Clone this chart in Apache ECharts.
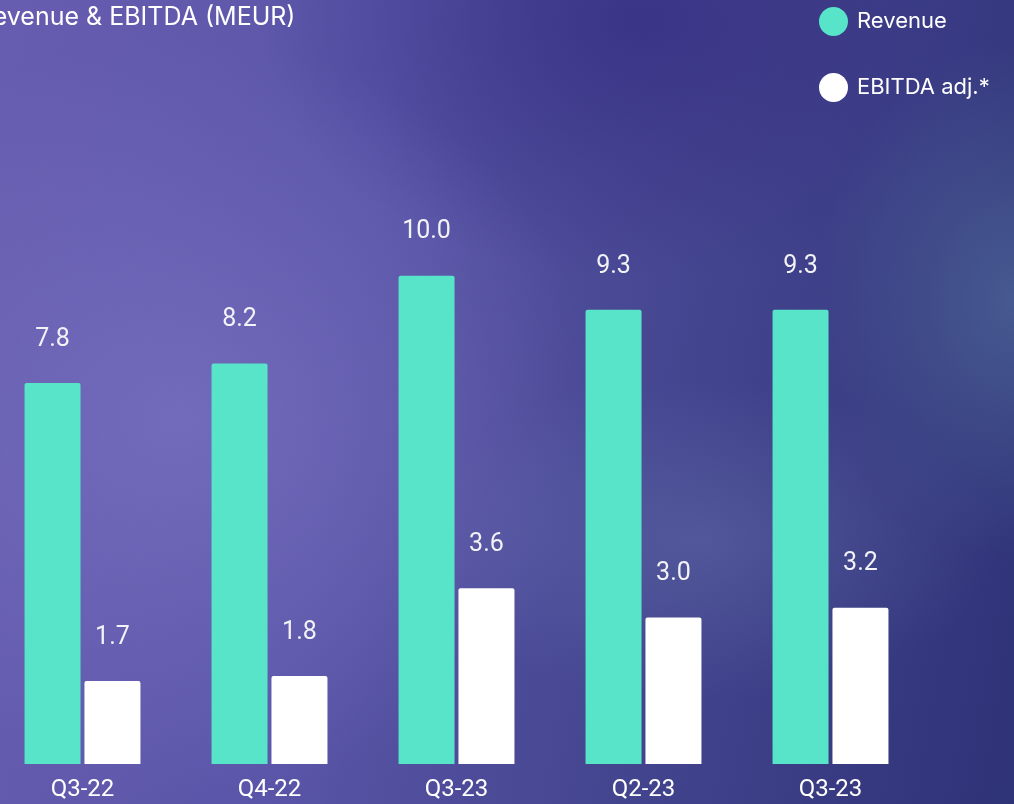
<!DOCTYPE html>
<html>
<head>
<meta charset="utf-8">
<script src="https://cdn.jsdelivr.net/npm/echarts@6/dist/echarts.min.js"></script>
<style>
html,body{margin:0;padding:0;width:1014px;height:804px;overflow:hidden;position:relative;}
body{
  background:
    radial-gradient(ellipse 200px 260px at 1014px 300px, rgba(78,104,152,0.7), rgba(78,104,152,0) 100%),
    radial-gradient(ellipse 300px 160px at 700px 540px, rgba(110,125,180,0.35), rgba(110,125,180,0) 100%),
    radial-gradient(ellipse 420px 380px at 180px 420px, rgba(116,108,188,0.9), rgba(116,108,188,0) 100%),
    radial-gradient(ellipse 380px 260px at 640px 20px, rgba(56,50,132,0.9), rgba(56,50,132,0) 100%),
    linear-gradient(100deg, #675db0 0%, #5a55a8 35%, #44458f 65%, #2e3277 100%);
}
#chart{position:absolute;left:-30px;top:0;width:1044px;height:804px;}
</style>
</head>
<body>
<div id="chart"></div>
<script>
var categories = ['Q3-22', 'Q4-22', 'Q3-23', 'Q2-23', 'Q3-23'];
var revenue = [7.8, 8.2, 10.0, 9.3, 9.3];
var ebitda = [1.7, 1.8, 3.6, 3.0, 3.2];
var seriesNames = ['Revenue', 'EBITDA adj.*'];
var titleText = 'Revenue & EBITDA (MEUR)';

var chart = echarts.init(document.getElementById('chart'), null, {renderer: 'canvas'});
var font = 'Roboto, "Noto Sans", sans-serif';
var wideFont = 'Inter, Roboto, sans-serif';
var labelStyle = {
  show: true, position: 'top', distance: 31,
  color: '#f2f2f7', fontSize: 25, fontFamily: font,
  formatter: function (p) { return p.value.toFixed(1); }
};
chart.setOption({
  backgroundColor: 'transparent',
  animation: false,
  title: {
    text: titleText, left: 2, top: 0,
    textStyle: {color: '#ffffff', fontSize: 25, fontWeight: 'normal', fontFamily: wideFont}
  },
  legend: {
    orient: 'vertical', left: 844, top: 2,
    icon: 'circle', itemWidth: 29, itemHeight: 29, itemGap: 37,
    textStyle: {color: '#ffffff', fontSize: 22, fontFamily: wideFont, padding: [0, 0, 0, 4]},
    data: seriesNames
  },
  grid: {left: 19, right: 90, top: 178, bottom: 40, containLabel: false},
  xAxis: {
    type: 'category', data: categories,
    axisLine: {show: false}, axisTick: {show: false},
    axisLabel: {color: '#ffffff', fontSize: 24, fontFamily: font, margin: 14}
  },
  yAxis: {
    type: 'value', min: 0, max: 12, interval: 2,
    show: false, splitLine: {show: false}
  },
  series: [
    {
      name: seriesNames[0], type: 'bar', data: revenue,
      barWidth: 56, barGap: '7%',
      itemStyle: {color: '#57e4c9', borderRadius: [2, 2, 0, 0]},
      label: labelStyle
    },
    {
      name: seriesNames[1], type: 'bar', data: ebitda,
      barWidth: 56,
      itemStyle: {color: '#ffffff', borderRadius: [2, 2, 0, 0]},
      label: labelStyle
    }
  ]
});
</script>
</body>
</html>
